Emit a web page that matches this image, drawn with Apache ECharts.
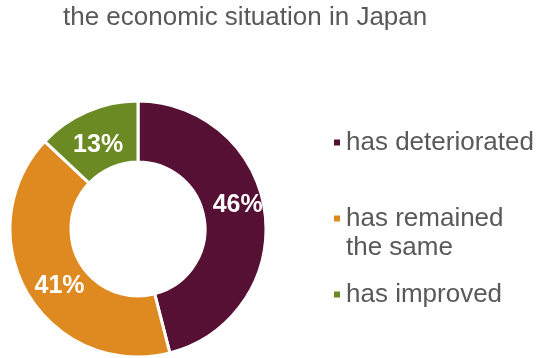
<!DOCTYPE html>
<html>
<head>
<meta charset="utf-8">
<script src="https://cdn.jsdelivr.net/npm/echarts@6/dist/echarts.min.js"></script>
<style>
  html, body { margin: 0; padding: 0; background: #fff; }
  #main { width: 540px; height: 358px; }
</style>
</head>
<body>
<div id="main"></div>
<script>
// data
var categories = ['has deteriorated', 'has remained the same', 'has improved'];
var shares = [46, 41, 13];
var colors = ['#561033', '#DF8A20', '#6B8A23'];
// small nudges so the percent labels sit where the original has them
var labelOffsets = [[0, -11], [8, 6], [0, 8]];

var chart = echarts.init(document.getElementById('main'), null, { renderer: 'canvas' });

var pieData = categories.map(function (name, i) {
  return {
    name: name,
    value: shares[i],
    itemStyle: { color: colors[i] },
    label: { offset: labelOffsets[i] }
  };
});

var option = {
  animation: false,
  title: {
    text: 'the economic situation in Japan',
    left: 58,
    top: 0,
    textStyle: {
      fontFamily: 'Liberation Sans, Arial, sans-serif',
      fontSize: 26,
      fontWeight: 'normal',
      color: '#595959'
    }
  },
  legend: {
    orient: 'vertical',
    left: 327,
    top: 123,
    itemWidth: 8,
    itemHeight: 8,
    itemGap: 18,
    icon: 'rect',
    data: categories,
    formatter: function (name) {
      // second entry wraps, icon sits on its first line
      if (name === 'has remained the same') return '\nhas remained\nthe same';
      return name;
    },
    textStyle: {
      fontFamily: 'Liberation Sans, Arial, sans-serif',
      fontSize: 26,
      lineHeight: 29,
      color: '#595959'
    }
  },
  series: [
    {
      type: 'pie',
      center: [138, 229],
      radius: [67, 128],
      startAngle: 90,
      clockwise: true,
      avoidLabelOverlap: false,
      itemStyle: { borderColor: '#fff', borderWidth: 3 },
      label: {
        show: true,
        position: 'inner',
        formatter: '{c}%',
        color: '#fff',
        fontFamily: 'Liberation Sans, Arial, sans-serif',
        fontSize: 25,
        fontWeight: 'bold'
      },
      labelLine: { show: false },
      emphasis: { scale: false },
      data: pieData
    }
  ]
};

chart.setOption(option);
</script>
</body>
</html>
